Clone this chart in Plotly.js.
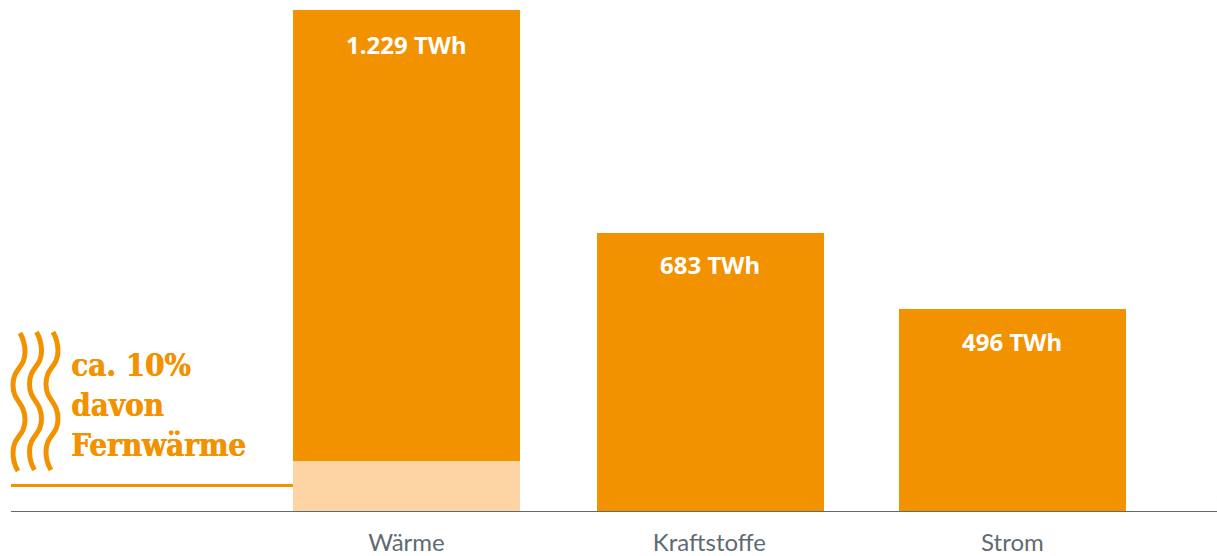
<!DOCTYPE html>
<html>
<head>
<meta charset="utf-8">
<script src="https://cdn.plot.ly/plotly-3.0.1.min.js"></script>
<style>html,body{margin:0;padding:0;background:#fff;overflow:hidden}#c{width:1217px;height:556px}</style>
</head>
<body>
<div id="c"></div>
<script>
const categories = ['Wärme', 'Kraftstoffe', 'Strom'];
const totals = [1229, 683, 496];
const totalLabels = ['1.229 TWh', '683 TWh', '496 TWh'];
const fernwaerme = [125, 0, 0];
const rest = [1104, 683, 496];
const noteLines = ['ca. 10%', 'davon', 'Fernwärme'];
const notePx = [365, 405, 445];
const labelShift = [-34, -31, -32];
const pxNudge = [0, 0.7, 0];

const W = 1217, H = 556;
const m = {l: 11, r: 0, t: 10, b: 44};
const pw = W - m.l - m.r, ph = H - m.t - m.b;
const pitch = 303, barUnits = 227 / pitch;
const orange = '#f39200', light = '#fdd5a5', grey = '#5f6b73';
const sans = '"Noto Sans", sans-serif';
const tickSans = 'Lato, sans-serif';
const slab = '"DejaVu Serif Condensed", "DejaVu Serif", serif';
const X = p => ((p - m.l) / pw).toFixed(5);
const Y = p => (1 - (p - m.t) / ph).toFixed(5);

function wave(dx, dy) {
  const P = (x, y) => X(x + dx) + ',' + Y(y + dy);
  return 'M' + P(20,333) +
    ' C' + P(24,340) + ' ' + P(25,345) + ' ' + P(25,352) +
    ' C' + P(25,368) + ' ' + P(13,368) + ' ' + P(13,385) +
    ' C' + P(13,402) + ' ' + P(25,402) + ' ' + P(25,420) +
    ' C' + P(25,436) + ' ' + P(13,436) + ' ' + P(13,453) +
    ' C' + P(13,460) + ' ' + P(15,466) + ' ' + P(18,471);
}

const shapes = [0, 16.5, 33].map((dx, i) => ({
  type: 'path', xref: 'paper', yref: 'paper', path: wave(dx, i === 0 ? 0 : -1),
  line: {color: orange, width: 5}, fillcolor: 'rgba(0,0,0,0)'
}));
shapes.push({
  type: 'line', xref: 'paper', yref: 'y', x0: 0, x1: X(293), y0: 65, y1: 65,
  line: {color: orange, width: 3}
});

const annotations = categories.map((c, i) => ({
  x: c, y: totals[i], xref: 'x', yref: 'y', text: '<b>' + totalLabels[i] + '</b>',
  showarrow: false, xanchor: 'center', yanchor: 'middle', yshift: labelShift[i], xshift: pxNudge[i] * 1.4,
  font: {family: sans, size: 24, color: '#ffffff'}
})).concat(noteLines.map((t, i) => ({
  x: X(71), y: Y(notePx[i]), xref: 'paper', yref: 'paper', text: '<b>' + t + '</b>',
  showarrow: false, xanchor: 'left', yanchor: 'middle', xshift: -2,
  font: {family: slab, size: 31, color: orange, shadow: '0.6px 0 0 #f39200'}
})));

const offsets = pxNudge.map(n => -barUnits / 2 + n / pitch);
const barBase = {type: 'bar', x: categories, width: barUnits, offset: offsets, hoverinfo: 'skip'};

Plotly.newPlot('c', [
  Object.assign({}, barBase, {y: fernwaerme, marker: {color: light, line: {width: 0}}}),
  Object.assign({}, barBase, {y: rest, marker: {color: orange, line: {width: 0}}})
], {
  width: W, height: H, margin: m, barmode: 'stack', showlegend: false,
  paper_bgcolor: '#fff', plot_bgcolor: '#fff',
  xaxis: {type: 'category', range: [-1.305, 2.675], showgrid: false, zeroline: false, showline: false,
    ticks: '', ticklabelstandoff: 14, tickfont: {family: tickSans, size: 24, color: grey}},
  yaxis: {range: [0, 1229], visible: false, zeroline: true},
  shapes: shapes.concat([{type: 'line', xref: 'paper', yref: 'y', x0: 0, x1: 1, y0: 0, y1: 0,
    line: {color: grey, width: 2}}]),
  annotations: annotations
}, {staticPlot: true});
</script>
</body>
</html>
